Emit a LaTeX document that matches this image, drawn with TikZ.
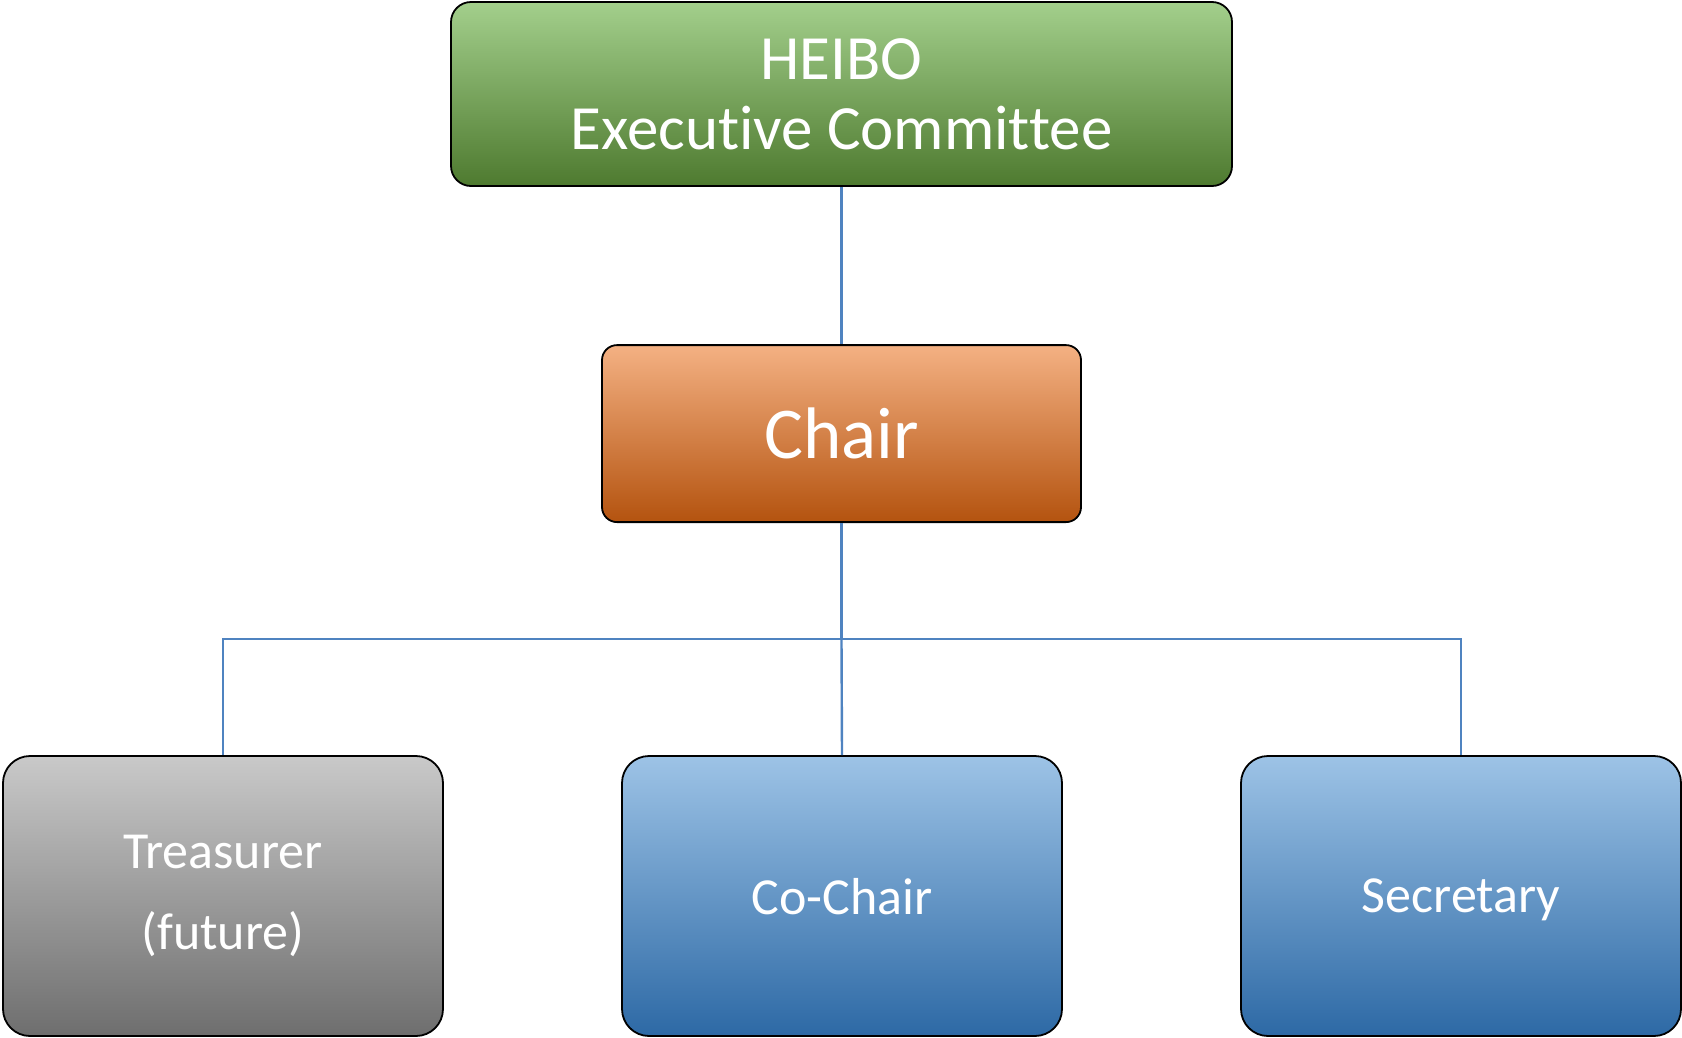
\documentclass[tikz,border=0pt]{standalone}
\usepackage{fontspec}
\setmainfont{Carlito}[RawFeature={-liga;-dlig;-clig}]
\definecolor{lnblue}{HTML}{4F83C0}
\definecolor{gTop}{HTML}{A3CF8C}
\definecolor{gMid}{HTML}{77B346}
\definecolor{gBot}{HTML}{4E7A2F}
\definecolor{oTop}{HTML}{F4B183}
\definecolor{oMid}{HTML}{EE7E33}
\definecolor{oBot}{HTML}{B4530F}
\definecolor{kTop}{HTML}{C9C9C9}
\definecolor{kMid}{HTML}{A2A2A2}
\definecolor{kBot}{HTML}{6E6E6E}
\definecolor{bTop}{HTML}{9DC3E6}
\definecolor{bMid}{HTML}{5E9CD6}
\definecolor{bBot}{HTML}{2D69A5}
\begin{document}
\begin{tikzpicture}[x=1pt,y=-1pt,
  box/.style={rectangle, draw=black, line width=1.8pt, text=white, align=center, inner sep=0pt},
  greenbox/.style={box, rounded corners=20pt, top color=gTop, middle color=gMid, bottom color=gBot,
     minimum width=781pt, minimum height=184pt, font=\fontsize{63}{70}\selectfont},
  orangebox/.style={box, rounded corners=15pt, top color=oTop, middle color=oMid, bottom color=oBot,
     minimum width=479pt, minimum height=177pt, font=\fontsize{73}{88}\selectfont},
  graybox/.style={box, rounded corners=27pt, top color=kTop, middle color=kMid, bottom color=kBot,
     minimum width=440pt, minimum height=280pt, font=\fontsize{52}{81.7}\selectfont},
  bluebox/.style={box, rounded corners=27pt, top color=bTop, middle color=bMid, bottom color=bBot,
     minimum width=440pt, minimum height=280pt, text depth=0pt, font=\fontsize{52}{81.7}\selectfont},
  conn/.style={draw=lnblue, line width=2.4pt}]
\useasboundingbox (0,0) rectangle (1682,1037);
\node[greenbox] (exec) at (841.5,94) {HEIBO\\Executive Committee};
\node[orangebox] (chair) at (841.5,433.6) {Chair};
\node[graybox] (treas) at (223,896) {Treasurer\\(future)};
\node[bluebox] (cochair) at (842,896) {Co-Chair};
\node[bluebox] (secr) at (1461,896) {Secretary};
\coordinate (j) at (841.5,639);
\draw[conn] (exec.south) -- (chair.north);
\draw[conn] (chair.south) -- (j);
\draw[conn] (j) -| (treas.north);
\draw[conn] (j) -| (secr.north);
\draw[conn] (j) -- (cochair.north);
\end{tikzpicture}
\end{document}
